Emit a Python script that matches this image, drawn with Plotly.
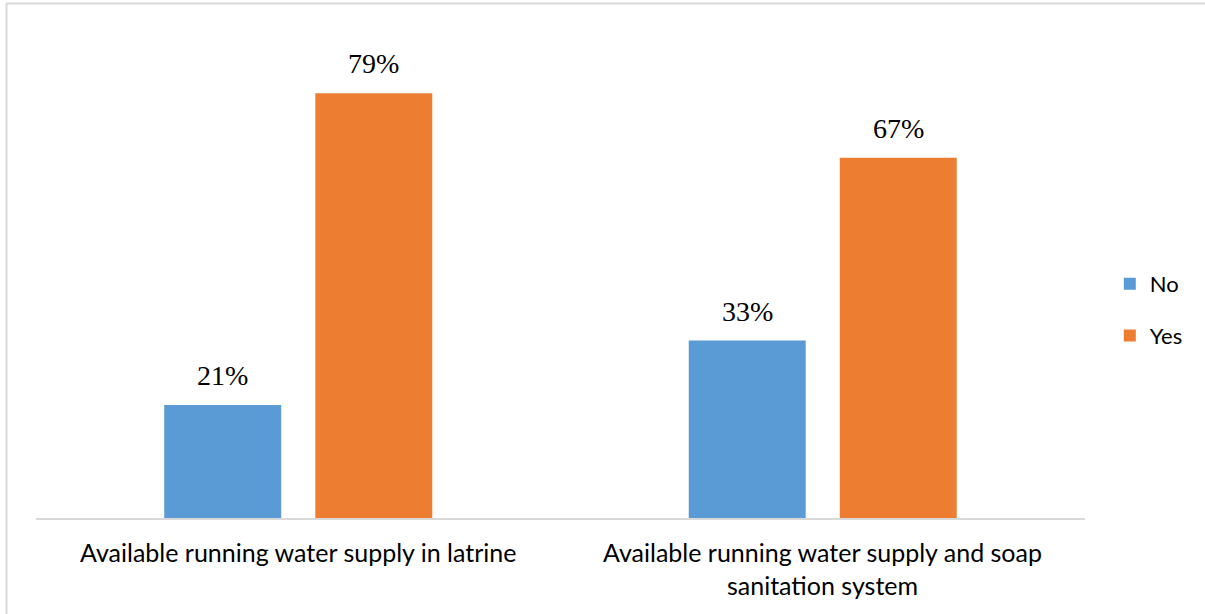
import plotly.graph_objects as go

# Survey results: availability of running water in latrines and soap sanitation
categories = [
    "Available running water supply in latrine",
    "Available running water supply and soap<br>sanitation system",
]
no_pct = [21, 33]
yes_pct = [79, 67]
series_names = ["No", "Yes"]

BLUE = "#5B9BD5"
ORANGE = "#ED7D31"
GRID = "#D9D9D9"

W, H = 1205, 614
ML, MR, MT, MB = 36, 120, 34, 96

# bar geometry in category units (numeric x positions 0, 1)
BAR_W = 0.223
GAP = 0.065
OFFSETS = [-(BAR_W + GAP / 2), GAP / 2]

xs = list(range(len(categories)))

fig = go.Figure()
for name, vals, color, off in zip(series_names, [no_pct, yes_pct], [BLUE, ORANGE], OFFSETS):
    fig.add_trace(go.Bar(
        x=xs, y=vals, name=name,
        marker=dict(color=color, line=dict(width=0)),
        width=BAR_W, offset=off,
        legendgroup=name,
        hoverinfo="skip",
    ))
    for xi, v in zip(xs, vals):
        fig.add_annotation(
            x=xi + off + BAR_W / 2, y=v, xref="x", yref="y",
            text=f"{v}%", showarrow=False,
            yanchor="bottom", yshift=12,
            font=dict(family="Liberation Serif", size=28, color="#000000"),
        )

# category captions under the axis
for xi, label in zip(xs, categories):
    fig.add_annotation(
        x=xi, y=0, xref="x", yref="y",
        text=label, showarrow=False,
        xanchor="center", yanchor="top", align="center",
        yshift=-17,
        font=dict(family="Lato", size=25, color="#000000"),
    )

# frame lines along the top and left edges of the page
pw = W - ML - MR
ph = H - MT - MB
def px_to_paper_x(px):
    return (px - ML) / pw
def px_to_paper_y(py):
    return (H - MB - py) / ph

fig.add_shape(type="line", xref="paper", yref="paper",
              x0=px_to_paper_x(6.5), x1=px_to_paper_x(6.5),
              y0=px_to_paper_y(3.5), y1=px_to_paper_y(H + 5),
              line=dict(color=GRID, width=2))
fig.add_shape(type="line", xref="paper", yref="paper",
              x0=px_to_paper_x(6), x1=px_to_paper_x(W + 5),
              y0=px_to_paper_y(3.5), y1=px_to_paper_y(3.5),
              line=dict(color=GRID, width=2))

fig.update_layout(
    width=W, height=H,
    margin=dict(l=ML, r=MR, t=MT, b=MB),
    paper_bgcolor="white", plot_bgcolor="white",
    barmode="overlay",
    showlegend=True,
    legend=dict(
        xref="container", yref="container",
        x=0.921, y=0.495, xanchor="left", yanchor="middle",
        font=dict(family="Lato", size=22, color="#000000"),
        traceorder="grouped", tracegroupgap=20,
        bgcolor="rgba(0,0,0,0)",
    ),
    xaxis=dict(
        range=[-0.5, len(categories) - 0.5],
        tickvals=xs, showticklabels=False,
        showline=True, linecolor=GRID, linewidth=2,
        showgrid=False, zeroline=False,
        fixedrange=True,
    ),
    yaxis=dict(
        range=[0, 90], visible=False, showgrid=False, zeroline=False,
        fixedrange=True,
    ),
)

fig.write_html("out.html", config={"displayModeBar": False})
